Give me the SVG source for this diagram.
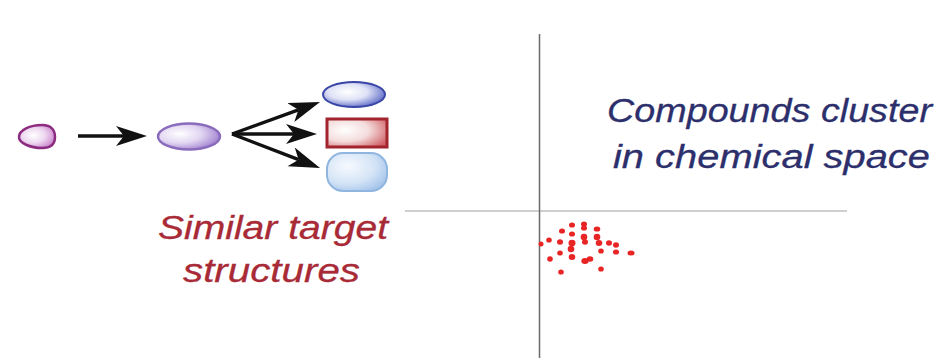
<svg xmlns="http://www.w3.org/2000/svg" width="952" height="362" viewBox="0 0 952 362">
  <style>
    .lbl { font-family: "Liberation Sans", Arial, sans-serif; font-style: italic; }
    .red-lbl { fill: #a82a36; font-size: 33px; stroke: #a82a36; stroke-width: 0.3; }
    .blue-lbl { fill: #2c2f6c; font-size: 34px; stroke: #2c2f6c; stroke-width: 0.3; }
    .conn { stroke: #111; stroke-width: 3.4; fill: none; marker-end: url(#dart); }
    .dot { fill: #e82424; }
  </style>
  <defs>
    <marker id="dart" markerUnits="userSpaceOnUse" markerWidth="34" markerHeight="22" refX="8" refY="10" orient="auto" viewBox="0 0 34 22">
      <path d="M0,0 L31,10 L0,20 L8,10 Z" fill="#111"/>
    </marker>
    <radialGradient id="gPink" cx="0.4" cy="0.45" r="0.65">
      <stop offset="0" stop-color="#ffffff"/>
      <stop offset="0.5" stop-color="#eed8f0"/>
      <stop offset="1" stop-color="#c882cc"/>
    </radialGradient>
    <radialGradient id="gPurple" cx="0.35" cy="0.4" r="0.7">
      <stop offset="0" stop-color="#ffffff"/>
      <stop offset="0.5" stop-color="#e2d6f2"/>
      <stop offset="1" stop-color="#9c7ccc"/>
    </radialGradient>
    <radialGradient id="gBlue" cx="0.4" cy="0.4" r="0.7">
      <stop offset="0" stop-color="#ffffff"/>
      <stop offset="0.45" stop-color="#dfe2f6"/>
      <stop offset="1" stop-color="#4a58c0"/>
    </radialGradient>
    <radialGradient id="gRed" cx="0.3" cy="0.4" r="0.8">
      <stop offset="0" stop-color="#ffffff"/>
      <stop offset="0.5" stop-color="#f4dcdc"/>
      <stop offset="1" stop-color="#d06066"/>
    </radialGradient>
    <radialGradient id="gSky" cx="0.35" cy="0.35" r="0.75">
      <stop offset="0" stop-color="#f6f9fe"/>
      <stop offset="0.6" stop-color="#d4e4f6"/>
      <stop offset="1" stop-color="#a4c4ea"/>
    </radialGradient>
  </defs>

  <!-- chemical space axes -->
  <g id="axes">
    <line x1="405" y1="211" x2="847" y2="211" stroke="#cfcfcf" stroke-width="2"/>
    <line x1="539.5" y1="34" x2="539.5" y2="358" stroke="#6a6a6a" stroke-width="1.5"/>
  </g>

  <!-- target structure shapes -->
  <g id="small-target">
    <path d="M19,137 C19,130 30,125 42,125 C52,125 55,131 55,137 C55,144 51,148 42,148 C30,148 19,143 19,137 Z" fill="url(#gPink)" stroke="#8c2c80" stroke-width="2.5"/>
  </g>
  <g id="mid-target">
    <ellipse cx="189" cy="136.5" rx="31" ry="13" fill="url(#gPurple)" stroke="#8a6cbc" stroke-width="2.5"/>
  </g>
  <g id="target-ellipse">
    <ellipse cx="354" cy="94.5" rx="31" ry="12.5" fill="url(#gBlue)" stroke="#3a46a6" stroke-width="2"/>
  </g>
  <g id="target-rect">
    <rect x="327" y="119" width="60" height="28" fill="url(#gRed)" stroke="#a2242c" stroke-width="3"/>
  </g>
  <g id="target-rounded">
    <rect x="327" y="153" width="60" height="38" rx="16" fill="url(#gSky)" stroke="#90b6e0" stroke-width="2"/>
  </g>

  <!-- connectors -->
  <g id="connectors">
    <line class="conn" x1="78" y1="136" x2="124" y2="136"/>
    <line class="conn" x1="232" y1="134" x2="298.4" y2="109.8"/>
    <line class="conn" x1="232" y1="134" x2="294" y2="134"/>
    <line class="conn" x1="232" y1="134" x2="298.6" y2="159.7"/>
  </g>

  <!-- compound cluster -->
  <g id="cluster">
    <ellipse class="dot" cx="572" cy="225" rx="3" ry="2.6"/>
    <ellipse class="dot" cx="584" cy="224" rx="3" ry="2.6"/>
    <ellipse class="dot" cx="584" cy="228" rx="3" ry="2.6"/>
    <ellipse class="dot" cx="562" cy="231" rx="3" ry="2.6"/>
    <ellipse class="dot" cx="597" cy="229" rx="3.3" ry="2.6"/>
    <ellipse class="dot" cx="572" cy="234" rx="3" ry="2.6"/>
    <ellipse class="dot" cx="584" cy="237" rx="3.3" ry="3.3"/>
    <ellipse class="dot" cx="597" cy="237" rx="3.3" ry="3.3"/>
    <ellipse class="dot" cx="549" cy="240" rx="2.8" ry="2.6"/>
    <ellipse class="dot" cx="560" cy="242" rx="3" ry="2.8"/>
    <ellipse class="dot" cx="572" cy="243" rx="3.5" ry="3.3"/>
    <ellipse class="dot" cx="585" cy="242" rx="3" ry="2.8"/>
    <ellipse class="dot" cx="599" cy="243" rx="3.3" ry="2.9"/>
    <ellipse class="dot" cx="609" cy="243" rx="3" ry="2.8"/>
    <ellipse class="dot" cx="616" cy="245" rx="3" ry="2.8"/>
    <ellipse class="dot" cx="541" cy="244" rx="2.5" ry="2.5"/>
    <ellipse class="dot" cx="571" cy="249" rx="3.3" ry="3.3"/>
    <ellipse class="dot" cx="601" cy="251" rx="2.8" ry="2.6"/>
    <ellipse class="dot" cx="616" cy="252" rx="3" ry="2.6"/>
    <ellipse class="dot" cx="631" cy="253" rx="3.5" ry="2.6"/>
    <ellipse class="dot" cx="560" cy="253" rx="2.8" ry="2.6"/>
    <ellipse class="dot" cx="572" cy="257" rx="3.3" ry="2.9"/>
    <ellipse class="dot" cx="550" cy="259" rx="2.8" ry="2.8"/>
    <ellipse class="dot" cx="585" cy="261" rx="3.7" ry="2.9"/>
    <ellipse class="dot" cx="590" cy="259" rx="3.3" ry="2.7"/>
    <ellipse class="dot" cx="601" cy="269" rx="2.8" ry="2.6"/>
    <ellipse class="dot" cx="561" cy="272" rx="2.8" ry="2.6"/>
  </g>

  <!-- labels -->
  <g id="label-targets">
    <text class="lbl red-lbl" x="158" y="239" textLength="230" lengthAdjust="spacingAndGlyphs">Similar target</text>
    <text class="lbl red-lbl" x="183" y="282" textLength="177" lengthAdjust="spacingAndGlyphs">structures</text>
  </g>
  <g id="label-space">
    <text class="lbl blue-lbl" x="607" y="122" textLength="325" lengthAdjust="spacingAndGlyphs">Compounds cluster</text>
    <text class="lbl blue-lbl" x="613" y="168" textLength="317" lengthAdjust="spacingAndGlyphs">in chemical space</text>
  </g>
</svg>
